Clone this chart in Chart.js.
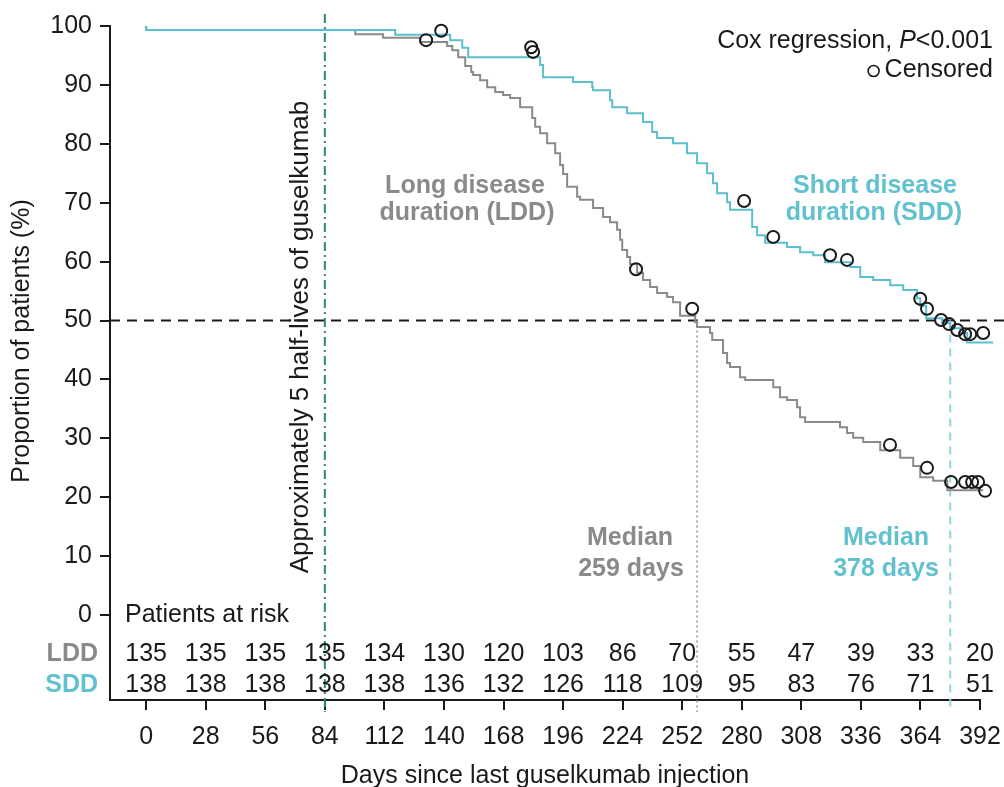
<!DOCTYPE html>
<html><head><meta charset="utf-8">
<script src="https://cdn.jsdelivr.net/npm/chart.js@4"></script>
<style>html,body{margin:0;padding:0;background:#fff}canvas{display:block}</style>
</head><body>
<canvas id="c" width="1004" height="787"></canvas>
<script>
// ---------- DATA ----------
const xTicks = [0,28,56,84,112,140,168,196,224,252,280,308,336,364,392];
const yTicks = [0,10,20,30,40,50,60,70,80,90,100];

const lddDays = [0,98.3,111.4,128.8,141.5,143.9,146.7,150.0,152.8,153.7,157.0,160.3,164.1,167.8,171.1,175.8,181.5,182.9,185.2,188.5,192.3,194.6,196.0,197.9,202.6,204.0,210.1,214.8,218.1,221.4,222.8,223.8,226.1,227.5,230.8,233.6,236.9,240.2,244.9,247.7,251.0,258.1,259.0,265.1,266.1,271.2,273.1,274.5,279.2,281.6,294.8,298.0,301.3,306.0,307.4,309.8,326.2,329.5,332.4,337.1,345.1,354.5,360.6,363.9,370.0,376.6,393.5,401.5];
const lddSurv = [100,99.3,98.6,98.0,97.3,96.6,95.9,94.7,93.2,92.2,91.7,90.8,89.6,88.8,88.3,87.8,86.2,84.4,82.9,81.8,80.1,78.4,76.4,74.9,72.7,71.0,70.5,69.1,67.6,66.7,65.4,63.7,62.0,60.8,59.6,58.1,56.9,55.7,54.7,54.0,53.1,50.8,49.7,48.9,47.9,46.7,44.5,42.8,42.1,40.4,39.9,38.7,37.0,36.5,35.3,33.6,32.8,31.9,30.9,30.1,29.4,28.0,26.7,25.3,23.4,22.8,21.2,21.2];

const sddDays = [0,117.1,142.9,148.6,151.4,185.2,186.6,200.7,209.7,210.1,218.1,219.1,226.1,233.6,237.9,240.2,247.7,254.3,259.0,263.7,266.5,268.4,273.1,274.5,284.9,287.2,291.0,301.3,307.4,313.6,319.2,331.0,335.7,341.8,349.8,355.9,362.4,363.9,366.7,374.2,378.0,382.7,386.0,398.2,399.1,402.0];
const sddSurv = [100,99.3,98.5,97.6,96.3,94.7,93.4,91.3,90.5,89.6,89.1,87.4,86.2,85.2,83.7,82.0,81.0,80.1,78.4,76.7,75.0,73.3,71.6,70.1,68.8,65.9,64.5,63.2,62.5,61.6,61.1,59.9,59.1,57.4,56.9,56.0,55.2,53.8,52.5,50.4,49.6,48.7,47.9,46.3,45.3,45.3];

const lddCensDays = [131.6,230.3,256.7,349.7,367.1,378.4,385.0,388.3,391.1,394.4,399.1];
const lddCensSurv = [97.6,58.7,52.0,28.9,25.0,22.6,22.6,22.6,22.6,21.1,21.1];
const sddCensDays = [138.7,181.0,181.9,281.1,294.8,321.5,329.5,363.9,367.1,373.7,377.5,381.3,385.0,387.4,393.5,398.2,401.0];
const sddCensSurv = [99.2,96.4,95.6,70.3,64.2,61.1,60.3,53.7,52.0,50.1,49.4,48.4,47.7,47.7,47.9,45.3,45.3];

const riskLDD = [135,135,135,135,134,130,120,103,86,70,55,47,39,33,20];
const riskSDD = [138,138,138,138,138,136,132,126,118,109,95,83,76,71,51];

const medianLDD = 259, medianSDD = 378, halfLifeDay = 84, medianLevel = 50;

// ---------- STYLE ----------
const FONT = '"Liberation Sans", Arial, Helvetica, sans-serif';
const FS = 25;
const GRAY = '#8a8a8a', CYAN = '#5cbfcf', CYAN_TXT = '#62c1cf', BLACK = '#1a1a1a', GREEN = '#2f8a6c';

const toXY = (xs, ys) => xs.map((x, i) => ({x, y: ys[i]}));

const overlay = {
  id: 'overlay',
  beforeDatasetsDraw(chart) {
    const {ctx, chartArea: a, scales: {x, y}} = chart;
    ctx.save();
    const y50 = y.getPixelForValue(medianLevel);
    ctx.strokeStyle = BLACK; ctx.lineWidth = 2; ctx.setLineDash([10, 7]);
    ctx.beginPath(); ctx.moveTo(a.left, y50); ctx.lineTo(chart.width, y50); ctx.stroke();
    const xl = x.getPixelForValue(medianLDD);
    ctx.strokeStyle = '#ababab'; ctx.setLineDash([2, 3]);
    ctx.beginPath(); ctx.moveTo(xl, y50); ctx.lineTo(xl, a.bottom + 12); ctx.stroke();
    const xs = x.getPixelForValue(medianSDD);
    ctx.strokeStyle = '#94d6e0'; ctx.setLineDash([8, 6]);
    ctx.beginPath(); ctx.moveTo(xs, y50); ctx.lineTo(xs, a.bottom + 12); ctx.stroke();
    const xh = x.getPixelForValue(halfLifeDay);
    ctx.strokeStyle = GREEN; ctx.setLineDash([9, 4, 2, 4]);
    ctx.beginPath(); ctx.moveTo(xh, a.top - 12); ctx.lineTo(xh, a.bottom + 12); ctx.stroke();
    ctx.restore();
  },
  afterDraw(chart) {
    const {ctx, chartArea: a, scales: {x, y}} = chart;
    ctx.save();
    ctx.textBaseline = 'middle';
    const f = (w, s) => `${w} ${s || FS}px ${FONT}`;
    ctx.font = f('normal'); ctx.fillStyle = BLACK; ctx.textAlign = 'left';
    ctx.fillText('Patients at risk', a.left + 15, y.getPixelForValue(0));
    ctx.textAlign = 'center';
    const yL = 654, yS = 685;
    xTicks.forEach((t, i) => {
      const px = x.getPixelForValue(t);
      ctx.fillText(String(riskLDD[i]), px, yL);
      ctx.fillText(String(riskSDD[i]), px, yS);
    });
    ctx.font = f('bold'); ctx.textAlign = 'right';
    ctx.fillStyle = GRAY; ctx.fillText('LDD', a.left - 12, yL);
    ctx.fillStyle = CYAN_TXT; ctx.fillText('SDD', a.left - 12, yS);
    ctx.textAlign = 'center';
    ctx.fillStyle = GRAY;
    ctx.fillText('Long disease', 465, 186);
    ctx.fillText('duration (LDD)', 467, 213);
    ctx.fillText('Median', 630, 538);
    ctx.fillText('259 days', 631, 569);
    ctx.fillStyle = CYAN_TXT;
    ctx.fillText('Short disease', 875, 186);
    ctx.fillText('duration (SDD)', 874, 213);
    ctx.fillText('Median', 886, 538);
    ctx.fillText('378 days', 886, 569);
    ctx.fillStyle = BLACK;
    ctx.font = f('normal');
    const t1 = 'Cox regression, ', t3 = '<0.001';
    const w1 = ctx.measureText(t1).width, w3 = ctx.measureText(t3).width;
    ctx.font = f('italic');
    const w2 = ctx.measureText('P').width;
    const R = 993;
    const sx = R - (w1 + w2 + w3);
    ctx.textAlign = 'left';
    ctx.font = f('normal'); ctx.fillText(t1, sx, 41);
    ctx.font = f('italic'); ctx.fillText('P', sx + w1, 41);
    ctx.font = f('normal'); ctx.fillText(t3, sx + w1 + w2, 41);
    ctx.textAlign = 'right';
    ctx.fillText('Censored', R, 70);
    const wc = ctx.measureText('Censored').width;
    ctx.beginPath(); ctx.lineWidth = 1.6; ctx.strokeStyle = BLACK;
    ctx.arc(R - wc - 11, 71, 5.5, 0, Math.PI * 2); ctx.stroke();
    ctx.save();
    ctx.font = f('normal', 26);
    ctx.translate(301, 337); ctx.rotate(-Math.PI / 2);
    ctx.textAlign = 'center';
    ctx.fillText('Approximately 5 half-lives of guselkumab', 0, 0);
    ctx.restore();
    ctx.save();
    ctx.translate(22, 341); ctx.rotate(-Math.PI / 2);
    ctx.textAlign = 'center';
    ctx.fillText('Proportion of patients (%)', 0, 0);
    ctx.restore();
    ctx.textAlign = 'center';
    ctx.fillText('Days since last guselkumab injection', 545, 776);
    ctx.restore();
  }
};

const lineDs = (label, data, color) => ({
  type: 'line', label, data, borderColor: color, borderWidth: 2,
  stepped: 'after', pointRadius: 0, fill: false, clip: false, order: 2
});
const censDs = (label, data) => ({
  type: 'scatter', label, data, showLine: false, pointRadius: 6,
  pointBorderWidth: 2, pointBorderColor: '#1a1a1a', pointBackgroundColor: 'rgba(0,0,0,0)',
  clip: false, order: 1
});

new Chart(document.getElementById('c'), {
  type: 'line',
  data: {
    datasets: [
      lineDs('SDD', toXY(sddDays, sddSurv), CYAN),
      lineDs('LDD', toXY(lddDays, lddSurv), GRAY),
      censDs('LDD censored', toXY(lddCensDays, lddCensSurv)),
      censDs('SDD censored', toXY(sddCensDays, sddCensSurv))
    ]
  },
  options: {
    responsive: false, animation: false, devicePixelRatio: 1,
    layout: { padding: { top: 26, right: 24, left: 0, bottom: 0 } },
    plugins: { legend: { display: false }, tooltip: { enabled: false } },
    scales: {
      x: {
        type: 'linear', min: -17, max: 392,
        afterBuildTicks: s => { s.ticks = xTicks.map(v => ({ value: v })); },
        afterFit: s => { s.height = 87; s.paddingRight = 0; s.paddingLeft = 0; },
        ticks: { autoSkip: false, maxRotation: 0, minRotation: 0, color: BLACK, padding: 12,
                 font: { family: FONT, size: FS } },
        grid: { display: true, drawOnChartArea: false, drawTicks: true, tickLength: 10, color: BLACK, lineWidth: 2 },
        border: { display: true, color: BLACK, width: 2 }
      },
      y: {
        type: 'linear', min: -14.4, max: 100,
        afterBuildTicks: s => { s.ticks = yTicks.map(v => ({ value: v })); },
        afterFit: s => { s.width = 110; },
        ticks: { color: BLACK, padding: 8, font: { family: FONT, size: FS } },
        grid: { display: true, drawOnChartArea: false, drawTicks: true, tickLength: 10, color: BLACK, lineWidth: 2 },
        border: { display: true, color: BLACK, width: 2 }
      }
    }
  },
  plugins: [overlay]
});
</script>
</body></html>
